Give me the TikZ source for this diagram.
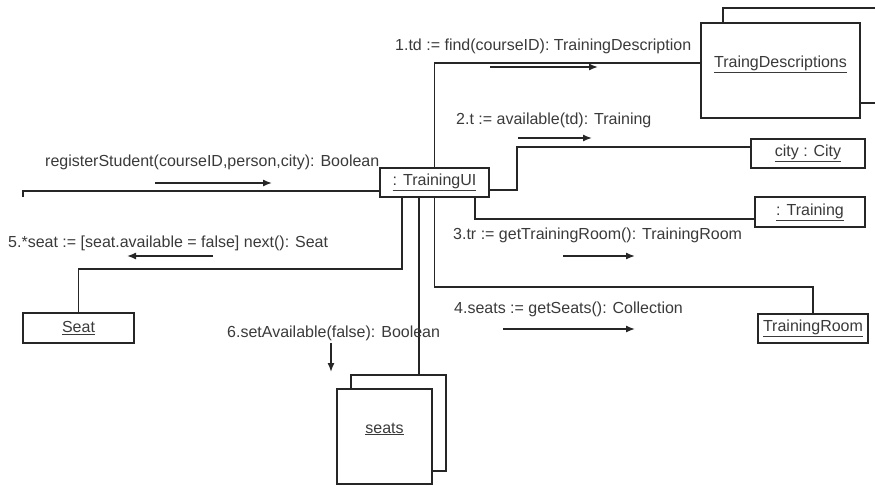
\documentclass[tikz,border=0pt]{standalone}
\usepackage{fontspec}
\setmainfont{Liberation Sans}
\usepackage{tikz}
\usetikzlibrary{arrows.meta}
\definecolor{ink}{HTML}{262626}
\definecolor{txt}{HTML}{3A3A3A}

\begin{document}
\begin{tikzpicture}[x=1pt,y=-1pt,
  font=\fontsize{16}{19}\selectfont,
  every node/.style={text=txt},
  obj/.style={draw=ink,line width=1.4pt,fill=white,inner sep=0pt},
  link/.style={draw=ink,line width=1.4pt},
  msg/.style={draw=ink,line width=1.4pt,-{Latex[length=9pt,width=7pt]}},
  lbl/.style={anchor=base west,inner sep=0pt}]
\useasboundingbox (0,0) rectangle (875,485);

\draw[link] (723,23) -- (723,8) -- (875,8);
\draw[link] (860,103) -- (875,103);
\node[obj,minimum width=159pt,minimum height=95pt] (td) at (780.5,70.5) {};
\node[anchor=base,inner sep=0pt] (tdname) at (780.5,67) {\underline{TraingDescriptions}};

\node[obj,minimum width=109pt,minimum height=29pt] (ui) at (434.5,182.5) {\underline{: TrainingUI}};
\node[obj,minimum width=114pt,minimum height=29pt] (city) at (808,153.5) {\underline{city : City}};
\node[obj,minimum width=110pt,minimum height=30pt] (trn) at (810,212) {\underline{: Training}};
\node[obj,line width=2.4pt,minimum width=110pt,minimum height=29pt] (room) at (813,328.5) {\underline{TrainingRoom}};
\node[obj,minimum width=111pt,minimum height=30pt] (seat) at (78.5,328) {\underline{Seat}};

\node[obj,minimum width=95pt,minimum height=96pt] (seatsback) at (398.5,423) {};
\node[obj,minimum width=95pt,minimum height=95pt] (seats) at (384.5,436.5) {};
\node[anchor=base,inner sep=0pt] (seatsname) at (384.5,433) {\underline{seats}};

\coordinate (actor) at (23,197);
\draw[link] (ui.west |- 0,191) -| (actor);
\draw[link] (ui.north) |- (td.west |- 0,63);
\draw[link] (ui.east |- 0,190) -- (517,190) |- (city.west |- 0,147);
\draw[link] (ui.south -| 475,0) |- (trn.west |- 0,219);
\draw[link] (ui.south) |- (room.north |- 0,287) -- (room.north);
\draw[link] (ui.south -| 402,0) |- (seat.north |- 0,269) -- (seat.north);
\draw[link] (ui.south -| 419,0) -- (seatsback.north -| 419,0);

\node[lbl] (m0) at (45,166) {registerStudent(courseID,person,city): Boolean};
\node[lbl] (m1) at (395,50) {1.td := find(courseID): TrainingDescription};
\node[lbl] (m2) at (456,124) {2.t := available(td): Training};
\node[lbl] (m3) at (453,239) {3.tr := getTrainingRoom(): TrainingRoom};
\node[lbl] (m4) at (454,313) {4.seats := getSeats(): Collection};
\node[lbl] (m5) at (8,247) {5.*seat := [seat.available = false] next(): Seat};
\node[lbl] (m6) at (227,337) {6.setAvailable(false): Boolean};

\draw[msg] (155,183) -- (272,183);
\draw[msg] (490,67) -- (598,67);
\draw[msg] (518,138) -- (592,138);
\draw[msg] (563,256) -- (635,256);
\draw[msg] (503,329) -- (635,329);
\draw[msg] (213,256) -- (127,256);
\draw[msg] (331,343) -- (331,372);
\end{tikzpicture}
\end{document}
